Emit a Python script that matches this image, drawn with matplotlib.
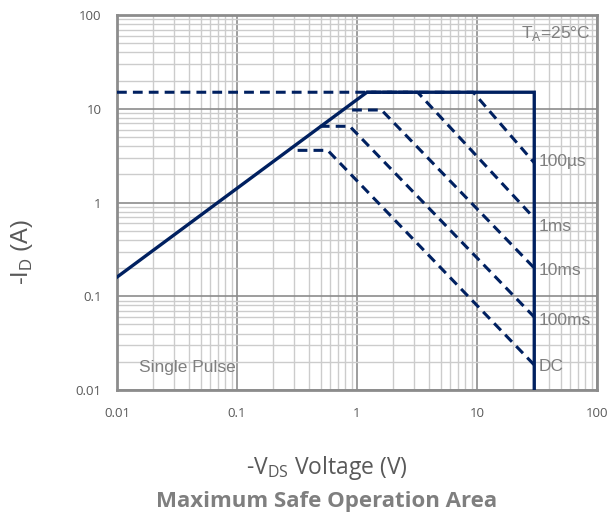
import matplotlib
matplotlib.use("Agg")
import matplotlib.pyplot as plt
from matplotlib.ticker import LogLocator, NullFormatter, FixedLocator, FixedFormatter

# Package limit outline (RDS(on) line, current limit, BVDSS limit)
outline_v = [0.01, 1.21, 30, 30]
outline_i = [0.16, 15, 15, 0.01]

# Pulse-width limited curves: plateau start, knee, end at 30 V
pulse_labels = ["100µs", "1ms", "10ms", "100ms", "DC"]
plateau_i = [15, 15, 9.7, 6.5, 3.6]
plateau_v_start = [0.01, 1.2, 0.91, 0.49, 0.32]
knee_v = [9.3, 3.2, 1.6, 0.87, 0.57]
end_v = [30, 30, 30, 30, 30]
end_i = [2.65, 0.68, 0.2, 0.06, 0.0185]
label_i = [2.75, 0.55, 0.19, 0.055, 0.018]

xticks = [0.01, 0.1, 1, 10, 100]
xticklabels = ["0.01", "0.1", "1", "10", "100"]
yticks = [0.01, 0.1, 1, 10, 100]
yticklabels = ["0.01", "0.1", "1", "10", "100"]

navy = "#002060"
gray_txt = "#7f7f7f"
tick_txt = "#595959"

fig = plt.figure(figsize=(6.09, 5.18), dpi=100)
ax = fig.add_axes([117 / 609, (518 - 390) / 518, 480 / 609, 375 / 518])
ax.set_xscale("log")
ax.set_yscale("log")
ax.set_xlim(0.01, 100)
ax.set_ylim(0.01, 100)

ax.xaxis.set_major_locator(FixedLocator(xticks))
ax.xaxis.set_major_formatter(FixedFormatter(xticklabels))
ax.yaxis.set_major_locator(FixedLocator(yticks))
ax.yaxis.set_major_formatter(FixedFormatter(yticklabels))
ax.xaxis.set_minor_locator(LogLocator(base=10, subs=range(2, 10), numticks=20))
ax.yaxis.set_minor_locator(LogLocator(base=10, subs=range(2, 10), numticks=20))
ax.xaxis.set_minor_formatter(NullFormatter())
ax.yaxis.set_minor_formatter(NullFormatter())

ax.grid(which="minor", color="#cccccc", linewidth=1.0)
ax.grid(which="major", color="#8c8c8c", linewidth=1.2)
ax.set_axisbelow(True)

ax.tick_params(which="both", length=0)
ax.tick_params(axis="x", pad=12, labelsize=9.5, labelcolor=tick_txt)
ax.tick_params(axis="y", pad=11, labelsize=9.5, labelcolor=tick_txt)
for lab in ax.get_xticklabels() + ax.get_yticklabels():
    lab.set_fontfamily("Open Sans")

for sp in ax.spines.values():
    sp.set_color("#8c8c8c")
    sp.set_linewidth(2.0)

ax.plot(outline_v, outline_i, color=navy, linewidth=2.4, solid_joinstyle="miter", zorder=4)

for v0, vk, ip, ve, ie in zip(plateau_v_start, knee_v, plateau_i, end_v, end_i):
    ax.plot([v0, vk, ve], [ip, ip, ie], color=navy, linewidth=2.2,
            linestyle=(0, (3.2, 2.0)), zorder=5)

for lab, li in zip(pulse_labels, label_i):
    ax.text(32.5, li, lab, fontsize=12.5, color=gray_txt, va="center", ha="left",
            fontfamily="Liberation Sans", zorder=6)

ax.text(0.0152, 0.0172, "Single Pulse", fontsize=12.5, color=gray_txt, va="center",
        ha="left", fontfamily="Liberation Sans")
ax.text(89, 64, r"T$_{\mathregular{A}}$=25°C", fontsize=12.5, color=gray_txt, va="center",
        ha="right", fontfamily="Liberation Sans")

fig.text(22 / 609, 1 - 252 / 518, r"-I$_{\mathregular{D}}$ (A)", rotation=90,
         fontsize=17, color=tick_txt, ha="center", va="center", fontfamily="Liberation Sans")
fig.text(327 / 609, 1 - 468 / 518, r"-V$_{\mathregular{DS}}$ Voltage (V)",
         fontsize=16.5, color=tick_txt, ha="center", va="center", fontfamily="Open Sans")
fig.text(327 / 609, 1 - 502 / 518, "Maximum Safe Operation Area", fontsize=16,
         fontweight="bold", color=gray_txt, ha="center", va="center", fontfamily="Open Sans")

fig.savefig("out.png", dpi=100)
